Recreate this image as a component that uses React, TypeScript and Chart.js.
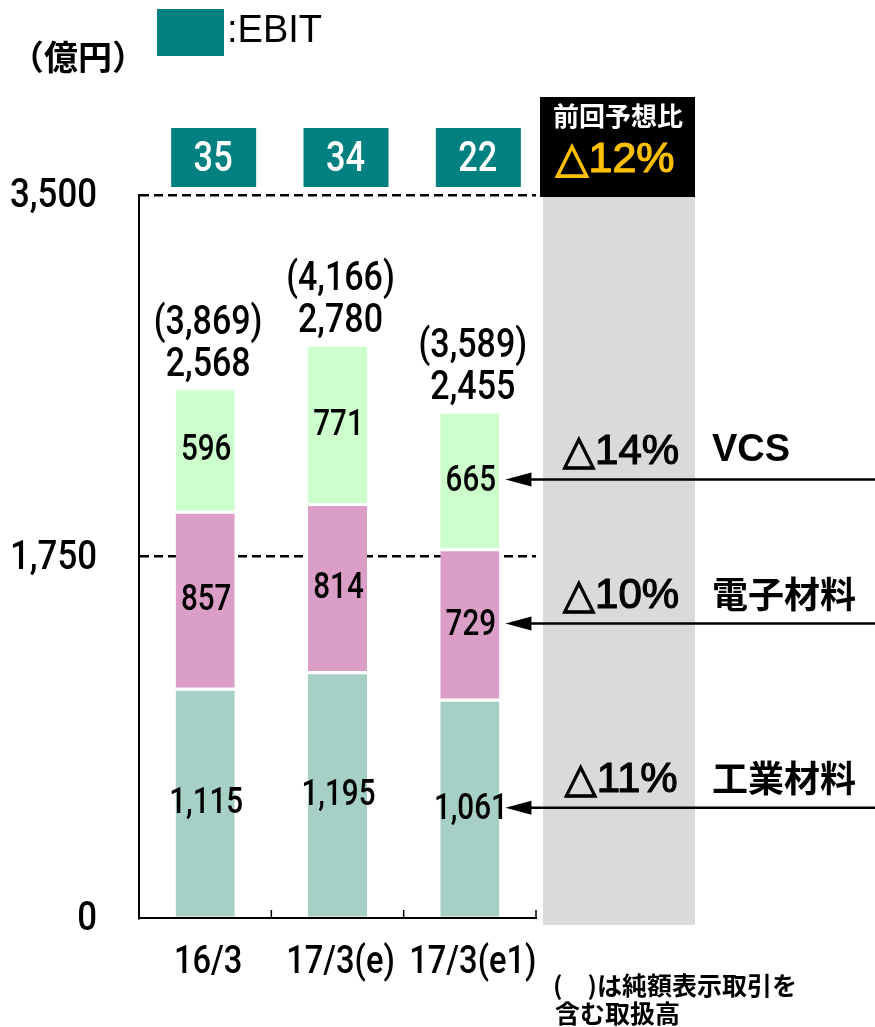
import React, { useEffect, useRef } from "react";
import { Chart, registerables } from "chart.js";

Chart.register(...registerables);

const categories = ["16/3", "17/3(e)", "17/3(e1)"];
const industrial = [1115, 1195, 1061];
const electronic = [857, 814, 729];
const vcs = [596, 771, 665];
const totals = [2568, 2780, 2455];
const grossTotals = [3869, 4166, 3589];
const ebit = [35, 34, 22];
const yTicks = [0, 1750, 3500];
const segmentNames = ["VCS", "電子材料", "工業材料"];
const segmentChanges = ["△14%", "△10%", "△11%"];
const overallChange = "△12%";

const SANS = "'Liberation Sans', Arial, 'DejaVu Sans', sans-serif";
const NUM = "Roboto, 'Liberation Sans', sans-serif";
const CJK = "'Noto Sans CJK JP', sans-serif";
const TEAL = "#008080";

const fmt = (v: number) => v.toLocaleString("en-US");

function txt(ctx: CanvasRenderingContext2D, s: string, x: number, y: number, font: string, color = "#000", align: CanvasTextAlign = "center", stroke = 0) {
  ctx.save();
  ctx.font = font;
  ctx.fillStyle = color;
  ctx.textAlign = align;
  ctx.textBaseline = "middle";
  ctx.fillText(s, x, y);
  if (stroke > 0) {
    ctx.strokeStyle = color;
    ctx.lineWidth = stroke;
    ctx.strokeText(s, x, y);
  }
  ctx.restore();
}

// condensed numeric text (the original uses a narrow face)
function ntxt(ctx: CanvasRenderingContext2D, s: string, x: number, y: number, size: number, sx = 0.83, color = "#000", align: CanvasTextAlign = "center") {
  ctx.save();
  ctx.translate(x, y);
  ctx.scale(sx, 1);
  ctx.font = `500 ${size}px ${NUM}`;
  ctx.fillStyle = color;
  ctx.textAlign = align;
  ctx.textBaseline = "middle";
  ctx.fillText(s, 0, 0);
  ctx.restore();
}

const decorations = {
  id: "decorations",
  beforeDraw(chart: any) {
    const ctx = chart.ctx as CanvasRenderingContext2D;
    ctx.save();
    ctx.fillStyle = "#fff";
    ctx.fillRect(0, 0, chart.width, chart.height);
    ctx.fillStyle = "#DADADA";
    ctx.fillRect(543, 197, 152, 728);
    ctx.fillStyle = "#000";
    ctx.fillRect(540, 97, 155, 100);
    ctx.restore();
  },
  afterDraw(chart: any) {
    const ctx = chart.ctx as CanvasRenderingContext2D;
    const xScale = chart.scales.x;
    const yScale = chart.scales.y;
    const area = chart.chartArea;

    // axis tick labels via scales
    yScale.ticks.forEach((t: any) => {
      ntxt(ctx, fmt(t.value), 97, yScale.getPixelForValue(t.value) + 2, 41, 0.85, "#000", "right");
    });
    categories.forEach((c, i) => {
      ntxt(ctx, c, xScale.getPixelForValue(i) + 3, 963, 38, 0.86);
    });

    // legend + unit
    ctx.fillStyle = TEAL;
    ctx.fillRect(157, 9, 67, 47);
    txt(ctx, ":EBIT", 227, 32, `38px ${SANS}`, "#000", "left");
    txt(ctx, "（億円）", 78, 57, `bold 34px ${CJK}`);

    // header box texts
    txt(ctx, "前回予想比", 618, 116, `bold 26px ${CJK}`, "#fff");
    txt(ctx, overallChange, 615, 160, `43px ${SANS}`, "#FFC000", "center", 1.2);

    // x tick marks (inward)
    ctx.save();
    ctx.strokeStyle = "#000";
    ctx.lineWidth = 1.5;
    const step = xScale.getPixelForValue(1) - xScale.getPixelForValue(0);
    for (let i = 0; i < categories.length; i++) {
      const xb = xScale.getPixelForValue(i) + step / 2;
      ctx.beginPath();
      ctx.moveTo(xb, area.bottom);
      ctx.lineTo(xb, area.bottom - 8);
      ctx.stroke();
    }
    ctx.restore();

    const metas = [0, 1, 2].map((i) => chart.getDatasetMeta(i));
    const seriesVals = [industrial, electronic, vcs];

    // segment labels
    metas.forEach((meta: any, d: number) => {
      meta.data.forEach((bar: any, i: number) => {
        const cy = (bar.y + bar.base) / 2 + 2;
        ntxt(ctx, fmt(seriesVals[d][i]), bar.x + 1, cy, 37, 0.8);
      });
    });

    // totals + EBIT boxes
    metas[2].data.forEach((bar: any, i: number) => {
      ntxt(ctx, `(${fmt(grossTotals[i])})`, bar.x + 3, bar.y - 64, 41, 0.83);
      ntxt(ctx, fmt(totals[i]), bar.x + 3, bar.y - 22, 41, 0.83);
      const bx = bar.x + 8;
      ctx.fillStyle = TEAL;
      ctx.fillRect(bx - 42, 128, 85, 59);
      ntxt(ctx, String(ebit[i]), bx, 160, 43, 0.8, "#fff");
    });

    // arrows to last bar segments
    const last = categories.length - 1;
    const order = [2, 1, 0];
    order.forEach((d, k) => {
      const bar = metas[d].data[last];
      const y = (bar.y + bar.base) / 2;
      const tipX = bar.x + bar.width / 2 + 6;
      ctx.save();
      ctx.strokeStyle = "#000";
      ctx.fillStyle = "#000";
      ctx.lineWidth = 2.5;
      ctx.beginPath();
      ctx.moveTo(875, y);
      ctx.lineTo(tipX + 20, y);
      ctx.stroke();
      ctx.beginPath();
      ctx.moveTo(tipX, y);
      ctx.lineTo(tipX + 26, y - 7);
      ctx.lineTo(tipX + 26, y + 7);
      ctx.closePath();
      ctx.fill();
      ctx.restore();
      txt(ctx, segmentChanges[k], 621, y - 27, `42px ${SANS}`, "#000", "center", 1.2);
      const nameFont = k === 0 ? `bold 38px ${SANS}` : `bold 36px ${CJK}`;
      txt(ctx, segmentNames[k], 712, y - 29, nameFont, "#000", "left");
    });

    // footnote
    txt(ctx, "(　)は純額表示取引を", 553, 985, `bold 25px ${CJK}`, "#000", "left");
    txt(ctx, "含む取扱高", 555, 1013, `bold 25px ${CJK}`, "#000", "left");
  },
};

export default function App() {
  const ref = useRef<HTMLCanvasElement>(null);
  useEffect(() => {
    if (!ref.current) return;
    const common = { borderColor: "#fff", borderWidth: { top: 3, left: 0, right: 0, bottom: 0 }, borderSkipped: false };
    const chart = new Chart(ref.current, {
      type: "bar",
      data: {
        labels: categories,
        datasets: [
          { label: "工業材料", data: industrial, backgroundColor: "#A6CFC5", ...common },
          { label: "電子材料", data: electronic, backgroundColor: "#DB9FC7", ...common },
          { label: "VCS", data: vcs, backgroundColor: "#CCFFCC", ...common },
        ] as any,
      },
      options: {
        animation: false,
        responsive: true,
        maintainAspectRatio: false,
        layout: { padding: { left: 0, top: 195, right: 339, bottom: 0 } },
        datasets: { bar: { categoryPercentage: 0.447, barPercentage: 1 } },
        plugins: { legend: { display: false }, tooltip: { enabled: false } },
        scales: {
          x: {
            stacked: true,
            afterFit: (s: any) => { s.height = 109; },
            grid: { display: false, drawTicks: false },
            border: { display: true, color: "#000", width: 2 },
            ticks: { display: false },
          },
          y: {
            stacked: true,
            min: 0,
            max: 3500,
            afterFit: (s: any) => { s.width = 139; },
            afterBuildTicks: (s: any) => { s.ticks = yTicks.map((v) => ({ value: v })); },
            grid: {
              drawTicks: false,
              color: (c: any) => (c.tick && c.tick.value === 0 ? "rgba(0,0,0,0)" : "#000"),
              lineWidth: 2.5,
            },
            border: { display: true, color: "#000", width: 2, dash: [9, 5] },
            ticks: { display: false },
          },
        },
      } as any,
      plugins: [decorations],
    });
    return () => chart.destroy();
  }, []);
  return (
    <div style={{ position: "absolute", left: 0, top: 0, width: 875, height: 1027 }}>
      <canvas ref={ref} />
    </div>
  );
}
